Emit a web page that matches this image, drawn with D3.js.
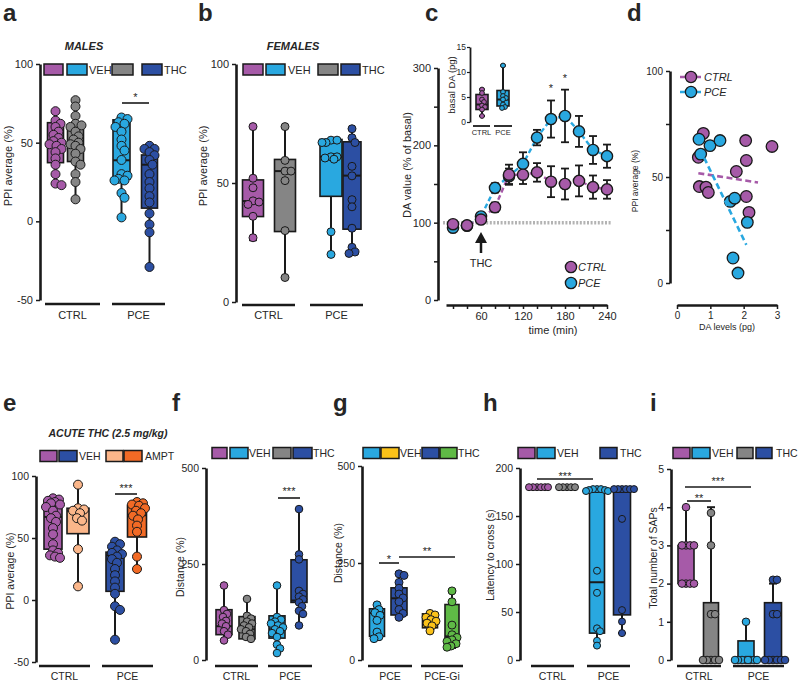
<!DOCTYPE html>
<html><head><meta charset="utf-8">
<script src="https://cdn.jsdelivr.net/npm/d3@7"></script>
<style>body{margin:0;background:#fff}svg{display:block}</style>
</head><body>
<script>
// ================= DATA =================
const groupNames = ["CTRL", "PCE"];
const seriesNames = ["s0", "s1", "s2", "s3"];

// a – males, PPI average (%)
const aCtrlVeh = [70,64,62,60,57,55,53,51,50,49,48,46,44,40,36,30,24,23];
const aCtrlThc = [77,73,67,62,61,60,57,54,52,50,49,48,46,43,38,36,30,25,14];
const aPceVeh  = [66,65,63,62,60,57,52,48,45,39,30,29,27,26,26,18,15,2.5];
const aPceThc  = [48,46,46,44,42,39,36,30,25,21,16,12,5,-2,-7,-29];
const aStats   = [[23.6,37.3,48.5,62.7,70],[14,38,48,61.6,77.4],[2.5,26.8,38.8,64.5,66.5],[-29,8.4,36,42.2,48.5]];

// b – females
const bCtrlVeh = [73.7,52,48,42.5,42,41,36,27];
const bCtrlThc = [73.7,59.5,55,55,51,30,10.3];
const bPceVeh  = [68,68,67,67,61,61,60.5,60,29.5,20];
const bPceThc  = [72.8,69,67,57,53,43,40,31,23,21,20.4];
const bStats   = [[26,35.9,42.4,51.3,73.7],[10.3,29.6,55,59.9,73.7],[20,44.4,61,68.3,68.3],[20.4,30.6,53.1,67.3,72.8]];

// c – DA time course
const cTime     = [20,40,60,80,100,120,140,160,180,200,220,240];
const cCtrlMean = [98,96.5,104,120,162,162,165,153,150,154,146,143];
const cCtrlErr  = [3,3,3,6,13,12,12,20,20,20,15,12];
const cPceMean  = [93.5,96,108,145,160,176,210,234,238,218,194,186];
const cPceErr   = [3,3,4,6,10,15,10,24,34,20,18,15];
const cStarTimes = [160,180];
const cInsetCtrl = [6.5,5.8,4.5,4,3.3,3,2.5,1.2];
const cInsetPce  = [11.3,6,5.2,4.8,4.5,3.5,3,2.8];
const cInsetStats = [[1.2,2.5,3.5,5.5,6.5],[2.8,3.2,4.5,6.3,11.3]];

// d – correlation
const dCtrlDA  = [0.79,0.64,0.67,0.87,0.94,2.06,2.08,1.78,2.08,2.16,2.85];
const dCtrlPPI = [70.6,59.3,45.5,45.2,42.7,67.2,57.8,52.6,40.8,33.3,64.4];
const dPceDA   = [0.66,0.71,0.99,1.29,1.6,1.73,2.11,1.68,1.83];
const dPcePPI  = [67.8,60.8,64.8,67.2,38.5,40,28.6,11.8,4.7];
const dCtrlFit = [[0.64,51.8],[2.43,47.4]];
const dPceFit  = [[0.69,63.1],[2.08,18]];

// e – acute THC + AMPT
const eCtrlVeh  = [82,81,80,79,78,77,75,72,68,66,63,58,53,45,40,38,36,35,34];
const eCtrlAmpt = [93,74,73,72,70,66,64,41,11];
const ePceVeh   = [47,45,43,40,38,37,35,33,30,25,20,15,10,5,-5,-8,-32];
const ePceAmpt  = [79,78,77,76,74,72,70,68,65,60,55,35,25];
const eStats    = [[34,41,67,80,82],[11,53.5,72,74,93],[-32,7,36,38.6,47],[25,50.8,68.4,76.5,79]];

// f – distance
const fCtrlVeh = [194,130,120,112,102,95,88,75,66,51];
const fCtrlThc = [159,115,108,100,95,90,85,80,75,68,60,55];
const fPceVeh  = [194,112,105,100,95,90,85,80,75,70,60,40,30,18];
const fPceThc  = [393,275,262,180,172,165,158,150,140,128,120,90];
const fStats   = [[51,66,88,131,194],[55,55,80,113,159],[18,57,80,115,194],[90,150,155,261,393]];

// g – distance, PCE vs PCE-Gi
const gGroupNames = ["PCE", "PCE-Gi"];
const gPceVeh = [142,130,122,115,102,72,60,55];
const gPceThc = [222,218,200,185,170,160,150,130,120,110];
const gGiVeh  = [120,116,110,104,100,95,88,75];
const gGiThc  = [178,150,90,65,58,52,48,42,36,33];
const gStats  = [[52,61,121,132,142],[110,116,159,186,226],[75,83,107,119,120],[31,36,61,143,181]];

// h – latency to cross
const hCtrlVeh = [180,180,180,180,180,180];
const hCtrlThc = [180,180,180,180,180];
const hPceVeh  = [178,178,178,177,177,176,176,93,70,33,30,20,15];
const hPceThc  = [178,178,178,178,178,178,147,52,40,28];
const hStats   = [[180,180,180,180,180],[180,180,180,180,180],[15,28,81,175,178],[28,47,175,175,178]];

// i – SAPs
const iCtrlVeh = [4,3,3,3,3,2,2,2,2];
const iCtrlThc = [3.85,3,1.2,1.2,0,0,0,0,0];
const iPceVeh  = [1,0,0,0,0,0,0,0,0];
const iPceThc  = [2.1,2.1,1.2,1.2,0,0,0,0,0,0];
const iStats   = [[2,2,3,3,4],[0,0,0,1.5,4],[0,0,0,0.5,1],[0,0,0,1.5,2]];

// ================= STYLE =================
const COL = {purple:"#a65aa8", lblue:"#29a8e0", gray:"#858585", dblue:"#2c4fa3",
             peach:"#fbb68a", orange:"#f26a25", yellow:"#fbc219", green:"#5fba46"};
const INK = "#1a1a1a", TXT = "#262626";
const FONT = "'Liberation Sans', Arial, Helvetica, sans-serif";

const svg = d3.select("body").append("svg").attr("width",800).attr("height",683);
svg.append("rect").attr("width",800).attr("height",683).attr("fill","#fff");

function txt(g, x, y, s, o = {}) {
  return g.append("text").attr("x",x).attr("y",y).text(s)
    .attr("font-family",FONT).attr("font-size",o.size||11).attr("fill",TXT)
    .attr("text-anchor",o.anchor||"start").attr("font-weight",o.weight||"normal")
    .attr("font-style",o.style||"normal");
}
function vlabel(g, x, cy, s, size) {
  g.append("text").attr("transform",`translate(${x},${cy}) rotate(-90)`).attr("text-anchor","middle")
    .attr("font-family",FONT).attr("font-size",size||11).attr("fill",TXT).text(s);
}
function yAxis(g, x, y, ticks, labels, size) {
  const ax = d3.axisLeft(y).tickValues(ticks).tickSize(4).tickSizeOuter(0)
    .tickFormat(d => labels.includes(d) ? d : "");
  const a = g.append("g").attr("transform",`translate(${x},0)`).call(ax);
  a.select(".domain").attr("stroke",INK).attr("stroke-width",2.6);
  a.selectAll(".tick line").attr("stroke",INK).attr("stroke-width",1.5);
  a.selectAll(".tick text").attr("font-size",size||11).attr("font-family",FONT).attr("fill",TXT);
  return a;
}
function legend(g, cy, items, h, fs) {
  items.forEach(it => {
    if (it.c) g.append("rect").attr("x",it.x).attr("y",cy-h/2).attr("width",it.w).attr("height",h)
      .attr("fill",COL[it.c]).attr("stroke",INK).attr("stroke-width",1.5);
    else txt(g, it.x, cy+4, it.t, {size:fs||11});
  });
}
function dodgeX(vals, y, cx, sep, maxOff) {
  const order = d3.range(vals.length).sort((a,b)=>d3.descending(vals[a],vals[b]));
  const placed = [], xs = new Array(vals.length);
  const cands = [0];
  for (let k=1;k<=maxOff;k++) cands.push(k,-k);
  order.forEach(i => {
    const py = y(vals[i]);
    let best = 0, bestD = -1;
    for (const off of cands) {
      let md = Infinity;
      for (const p of placed) { const d = Math.hypot(p[0]-off, p[1]-py); if (d < md) md = d; }
      if (md >= sep) { best = off; break; }
      if (md > bestD) { bestD = md; best = off; }
    }
    placed.push([best, py]);
    xs[i] = cx + best;
  });
  return xs;
}
function boxSeries(g, y, cx, w, stats, pts, color, r, sep, capW, spread) {
  const [mn,q1,md,q3,mx] = stats;
  const cap = capW || 8;
  const L = (x1,y1,x2,y2,sw) => g.append("line").attr("x1",x1).attr("y1",y1).attr("x2",x2).attr("y2",y2)
    .attr("stroke",INK).attr("stroke-width",sw);
  if (mx > q3) { L(cx,y(q3),cx,y(mx),2); L(cx-cap/2,y(mx),cx+cap/2,y(mx),2); }
  if (mn < q1) { L(cx,y(q1),cx,y(mn),2); L(cx-cap/2,y(mn),cx+cap/2,y(mn),2); }
  if (q3 > q1) {
    g.append("rect").attr("x",cx-w/2).attr("y",y(q3)).attr("width",w).attr("height",y(q1)-y(q3))
      .attr("fill",COL[color]).attr("stroke",INK).attr("stroke-width",1.6);
    L(cx-w/2,y(md),cx+w/2,y(md),2);
  }
  const xs = dodgeX(pts, y, cx, sep, Math.max(1, Math.round(w/2 + (spread == null ? -2 : spread))));
  g.selectAll(null).data(pts).enter().append("circle")
    .attr("cx",(d,i)=>xs[i]).attr("cy",d=>y(d)).attr("r",r)
    .attr("fill",COL[color]).attr("stroke",INK).attr("stroke-width",1);
}
function boxPanel(P) {
  const g = svg.append("g");
  const y = d3.scaleLinear().domain(P.domain).range(P.range);
  const xPos = d3.scaleOrdinal().domain(seriesNames).range(P.centers);
  P.groupLines.forEach((gl,i) => {
    g.append("line").attr("x1",gl[0]).attr("x2",gl[1]).attr("y1",P.lineY).attr("y2",P.lineY)
      .attr("stroke",INK).attr("stroke-width",2.6);
    txt(g,(gl[0]+gl[1])/2,P.labelY,P.groupLabels[i],{anchor:"middle",size:P.fs||11});
  });
  P.series.forEach((s,i) => boxSeries(g, y, xPos(seriesNames[i]), P.widths[i], P.stats[i], s.pts, s.c, P.r, P.sep, 8, P.spread));
  yAxis(g, P.axisX, y, P.ticks, P.labels, P.fs);
  vlabel(g, P.yLabelX, P.yLabelY, P.yLabel, P.yLabelSize || P.fs || 11);
  legend(g, P.legendY, P.legend, P.legendH || 11, P.fs);
  (P.sigs||[]).forEach(s => {
    g.append("line").attr("x1",s[0]).attr("x2",s[1]).attr("y1",s[2]).attr("y2",s[2]).attr("stroke",INK).attr("stroke-width",1.6);
    txt(g,s[3],s[4],s[5],{anchor:"middle",size:11});
  });
  if (P.title) txt(g,P.title[0],P.title[1],P.title[2],{anchor:"middle",size:P.title[3]||11,weight:"bold",style:"italic"});
  txt(g,P.letter[0],P.letter[1],P.letter[2],{size:24,weight:"bold"});
  return y;
}

// ================= PANEL a =================
boxPanel({
  domain:[-50,100], range:[300,64], centers:[55.5,75.5,121.5,149.5], widths:[16,16,17,16],
  stats:aStats, series:[{pts:aCtrlVeh,c:"purple"},{pts:aCtrlThc,c:"gray"},{pts:aPceVeh,c:"lblue"},{pts:aPceThc,c:"dblue"}],
  r:4.5, sep:5.5, axisX:40, ticks:[-50,0,50,100], labels:[-50,0,50,100],
  groupLines:[[45,100],[112,165]], groupLabels:groupNames, lineY:304, labelY:319,
  yLabel:"PPI average (%)", yLabelX:12, yLabelY:166,
  legendY:69.5, legend:[{x:44,w:19,c:"purple"},{x:67,w:20,c:"lblue"},{x:89,t:"VEH"},
    {x:112,w:21,c:"gray"},{x:142,w:20,c:"dblue"},{x:164,t:"THC"}],
  sigs:[[122,149,103,135.5,101,"*"]], title:[84,50,"MALES",11], letter:[3,21,"a"]
});

// ================= PANEL b =================
boxPanel({
  domain:[0,100], range:[302,64], centers:[253,285,331,352], widths:[21,21,22,18],
  stats:bStats, series:[{pts:bCtrlVeh,c:"purple"},{pts:bCtrlThc,c:"gray"},{pts:bPceVeh,c:"lblue"},{pts:bPceThc,c:"dblue"}],
  r:4, sep:5.5, axisX:236, ticks:[0,50,100], labels:[0,50,100],
  groupLines:[[242,295],[310,363]], groupLabels:groupNames, lineY:305, labelY:319,
  yLabel:"PPI average (%)", yLabelX:207, yLabelY:166,
  legendY:69.5, legend:[{x:243,w:20,c:"purple"},{x:266,w:19,c:"lblue"},{x:288,t:"VEH"},
    {x:318,w:20,c:"gray"},{x:341,w:19,c:"dblue"},{x:362,t:"THC"}],
  title:[293,50,"FEMALES",11], letter:[198,21,"b"]
});

// ================= PANEL c =================
(function(){
  const g = svg.append("g");
  const x = d3.scaleLinear().domain([10,240]).range([446,607]);
  const y = d3.scaleLinear().domain([0,300]).range([300,68]);
  g.append("line").attr("x1",443).attr("x2",612).attr("y1",y(100)).attr("y2",y(100))
    .attr("stroke","#b3b3b3").attr("stroke-width",3.5).attr("stroke-dasharray","2,1.6");
  yAxis(g, 438, y, [0,50,100,150,200,250,300], [0,100,200,300], 11);
  const xa = g.append("g").attr("transform","translate(0,305)")
    .call(d3.axisBottom(x).tickValues(d3.range(20,241,20)).tickSize(4).tickSizeOuter(0)
      .tickFormat(d => d % 60 === 0 ? d : ""));
  xa.select(".domain").attr("stroke",INK).attr("stroke-width",2.6);
  xa.selectAll(".tick line").attr("stroke",INK).attr("stroke-width",1.5);
  xa.selectAll(".tick text").attr("font-size",11).attr("font-family",FONT).attr("fill",TXT);
  txt(g,553,334,"time (min)",{anchor:"middle"});
  vlabel(g,411,165,"DA value (% of basal)",11);
  const series = [{m:cPceMean,e:cPceErr,c:"lblue"},{m:cCtrlMean,e:cCtrlErr,c:"purple"}];
  series.forEach(s => {
    const line = d3.line().x((d,i)=>x(cTime[i])).y(d=>y(d));
    g.append("path").attr("d",line(s.m)).attr("fill","none").attr("stroke",COL[s.c])
      .attr("stroke-width",2.4).attr("stroke-dasharray","5,3");
  });
  series.forEach(s => {
    s.m.forEach((v,i) => {
      const cx = x(cTime[i]);
      g.append("line").attr("x1",cx).attr("x2",cx).attr("y1",y(v-s.e[i])).attr("y2",y(v+s.e[i])).attr("stroke",INK).attr("stroke-width",1.8);
      [v-s.e[i], v+s.e[i]].forEach(b => g.append("line").attr("x1",cx-4).attr("x2",cx+4).attr("y1",y(b)).attr("y2",y(b)).attr("stroke",INK).attr("stroke-width",1.8));
    });
  });
  series.forEach(s => {
    g.selectAll(null).data(s.m).enter().append("circle").attr("cx",(d,i)=>x(cTime[i])).attr("cy",d=>y(d))
      .attr("r",5.6).attr("fill",COL[s.c]).attr("stroke",INK).attr("stroke-width",1.4);
  });
  cStarTimes.forEach(t => {
    const i = cTime.indexOf(t);
    txt(g, x(t), y(cPceMean[i] + cPceErr[i]) - 8, "*", {anchor:"middle", size:11});
  });
  // THC arrow
  g.append("path").attr("d",`M${x(60)},232 L${x(60)-6},243 L${x(60)+6},243 Z`).attr("fill",INK);
  g.append("line").attr("x1",x(60)).attr("x2",x(60)).attr("y1",242).attr("y2",253).attr("stroke",INK).attr("stroke-width",2.5);
  txt(g,x(60),267,"THC",{anchor:"middle"});
  [["purple","CTRL",267],["lblue","PCE",283]].forEach(l => {
    g.append("circle").attr("cx",571).attr("cy",l[2]).attr("r",5.6).attr("fill",COL[l[0]]).attr("stroke",INK).attr("stroke-width",1.4);
    txt(g,578,l[2]+4,l[1],{style:"italic"});
  });
  // inset
  const iy = d3.scaleLinear().domain([0,15]).range([122,47]);
  const ix = d3.scaleOrdinal().domain(groupNames).range([482,503]);
  boxSeries(g, iy, ix("CTRL"), 12, cInsetStats[0], cInsetCtrl, "purple", 2.4, 3, 6, 0);
  boxSeries(g, iy, ix("PCE"), 12, cInsetStats[1], cInsetPce, "lblue", 2.4, 3, 6, 0);
  const ia = g.append("g").attr("transform","translate(470,0)")
    .call(d3.axisLeft(iy).tickValues([0,5,10,15]).tickSize(3).tickPadding(1).tickSizeOuter(0));
  ia.select(".domain").attr("stroke",INK).attr("stroke-width",1.8);
  ia.selectAll(".tick line").attr("stroke",INK).attr("stroke-width",1.2);
  ia.selectAll(".tick text").attr("font-size",8.5).attr("font-family",FONT).attr("fill",TXT);
  vlabel(g,455,85,"basal DA (pg)",9.5);
  [[473,490,"CTRL"],[494,512,"PCE"]].forEach(l => {
    g.append("line").attr("x1",l[0]).attr("x2",l[1]).attr("y1",126).attr("y2",126).attr("stroke",INK).attr("stroke-width",1.8);
    txt(g,(l[0]+l[1])/2,135,l[2],{anchor:"middle",size:7.5});
  });
  txt(g,425,21,"c",{size:24,weight:"bold"});
})();

// ================= PANEL d =================
(function(){
  const g = svg.append("g");
  const x = d3.scaleLinear().domain([0,3]).range([677,777]);
  const y = d3.scaleLinear().domain([0,100]).range([283,71]);
  yAxis(g, 670, y, [0,25,50,75,100], [0,50,100], 10);
  const xa = g.append("g").attr("transform","translate(0,305)")
    .call(d3.axisBottom(x).tickValues([0,1,2,3]).tickSize(4).tickSizeOuter(0).tickFormat(d3.format("d")));
  xa.select(".domain").attr("stroke",INK).attr("stroke-width",2.6);
  xa.selectAll(".tick line").attr("stroke",INK).attr("stroke-width",1.5);
  xa.selectAll(".tick text").attr("font-size",10).attr("font-family",FONT).attr("fill",TXT);
  txt(g,727,330,"DA levels (pg)",{anchor:"middle",size:9});
  vlabel(g,638,181,"PPI average (%)",8.5);
  const pts = [{xs:dCtrlDA,ys:dCtrlPPI,c:"purple"},{xs:dPceDA,ys:dPcePPI,c:"lblue"}];
  pts.forEach(s => {
    g.selectAll(null).data(s.ys).enter().append("circle").attr("cx",(d,i)=>x(s.xs[i])).attr("cy",d=>y(d))
      .attr("r",5.8).attr("fill",COL[s.c]).attr("stroke",INK).attr("stroke-width",1.3);
  });
  [[dCtrlFit,"purple"],[dPceFit,"lblue"]].forEach(f => {
    g.append("path").attr("d",d3.line().x(d=>x(d[0])).y(d=>y(d[1]))(f[0])).attr("fill","none")
      .attr("stroke",COL[f[1]]).attr("stroke-width",2.6).attr("stroke-dasharray","6,3.5");
  });
  [["purple","CTRL",77],["lblue","PCE",92]].forEach(l => {
    g.append("line").attr("x1",680).attr("x2",702).attr("y1",l[2]).attr("y2",l[2]).attr("stroke",COL[l[0]]).attr("stroke-width",2.6).attr("stroke-dasharray","5,3");
    g.append("circle").attr("cx",691).attr("cy",l[2]).attr("r",5.6).attr("fill",COL[l[0]]).attr("stroke",INK).attr("stroke-width",1.3);
    txt(g,704,l[2]+4,l[1],{style:"italic"});
  });
  txt(g,627,21,"d",{size:24,weight:"bold"});
})();

// ================= PANEL e =================
boxPanel({
  domain:[-50,100], range:[662,476], centers:[53,78,115,137], widths:[18,22,18,19],
  stats:eStats, series:[{pts:eCtrlVeh,c:"purple"},{pts:eCtrlAmpt,c:"peach"},{pts:ePceVeh,c:"dblue"},{pts:ePceAmpt,c:"orange"}],
  r:4.5, sep:5.5, axisX:36, ticks:[-50,0,50,100], labels:[-50,0,50,100], fs:10.5,
  groupLines:[[39,90],[102,153]], groupLabels:groupNames, lineY:666, labelY:680,
  yLabel:"PPI average (%)", yLabelX:14, yLabelY:571,
  legendY:456, legend:[{x:40,w:17,c:"purple"},{x:59,w:18,c:"dblue"},{x:79,t:"VEH"},
    {x:106,w:17,c:"peach"},{x:124,w:18,c:"orange"},{x:145,t:"AMPT"}],
  sigs:[[115,137,494,126,492,"***"]], title:[108,437,"ACUTE THC (2.5 mg/kg)",10.5], letter:[3,411,"e"]
});

// ================= PANEL f =================
boxPanel({
  domain:[0,500], range:[660,468], centers:[224,247,277,299], widths:[16,16,16,16],
  stats:fStats, series:[{pts:fCtrlVeh,c:"purple"},{pts:fCtrlThc,c:"gray"},{pts:fPceVeh,c:"lblue"},{pts:fPceThc,c:"dblue"}],
  r:3.8, sep:4.8, axisX:206, ticks:[0,250,500], labels:[0,250,500], fs:10.5,
  groupLines:[[215,258],[268,312]], groupLabels:groupNames, lineY:666, labelY:680,
  yLabel:"Distance (%)", yLabelX:184, yLabelY:567,
  legendY:453, legend:[{x:212,w:15,c:"purple"},{x:230,w:18,c:"lblue"},{x:249,t:"VEH"},
    {x:273,w:18,c:"gray"},{x:293,w:19,c:"dblue"},{x:313,t:"THC"}],
  sigs:[[278,300,498,289,495,"***"]], letter:[172,411,"f"]
});

// ================= PANEL g =================
boxPanel({
  domain:[0,500], range:[660,466], centers:[377,399,430,452], widths:[15,16,15,14],
  stats:gStats, series:[{pts:gPceVeh,c:"lblue"},{pts:gPceThc,c:"dblue"},{pts:gGiVeh,c:"yellow"},{pts:gGiThc,c:"green"}],
  r:4, sep:5, axisX:362, ticks:[0,250,500], labels:[0,250,500], fs:10.5,
  groupLines:[[368,412],[421,463]], groupLabels:gGroupNames, lineY:666, labelY:680,
  yLabel:"Distance (%)", yLabelX:342, yLabelY:553,
  legendY:453, legend:[{x:363,w:17,c:"lblue"},{x:381,w:18,c:"yellow"},{x:400,t:"VEH"},
    {x:422,w:17,c:"dblue"},{x:440,w:17,c:"green"},{x:458,t:"THC"}],
  sigs:[[379,399,563,389,563,"*"],[399,455,557,427,555,"**"]], letter:[333,411,"g"]
});

// ================= PANEL h =================
boxPanel({
  domain:[0,200], range:[660,468], centers:[537,567,597,622], widths:[16,16,15,17],
  stats:hStats, series:[{pts:hCtrlVeh,c:"purple"},{pts:hCtrlThc,c:"gray"},{pts:hPceVeh,c:"lblue"},{pts:hPceThc,c:"dblue"}],
  r:3.5, sep:3.8, spread:3, axisX:520, ticks:[0,50,100,150,200], labels:[0,50,100,150,200], fs:10.5,
  groupLines:[[531,574],[587,630]], groupLabels:groupNames, lineY:666, labelY:680,
  yLabel:"Latency to cross (s)", yLabelX:494, yLabelY:555,
  legendY:453, legend:[{x:518,w:17,c:"purple"},{x:537,w:18,c:"lblue"},{x:557,t:"VEH"},
    {x:600,w:17,c:"dblue"},{x:620,t:"THC"}],
  sigs:[[537,593,479,565,480,"***"]], letter:[483,411,"h"]
});

// ================= PANEL i =================
boxPanel({
  domain:[0,5], range:[660,469], centers:[686,711,746,773], widths:[16,15,16,17],
  stats:iStats, series:[{pts:iCtrlVeh,c:"purple"},{pts:iCtrlThc,c:"gray"},{pts:iPceVeh,c:"lblue"},{pts:iPceThc,c:"dblue"}],
  r:3.8, sep:3.6, spread:3, axisX:671, ticks:[0,1,2,3,4,5], labels:[0,1,2,3,4,5], fs:10.5,
  groupLines:[[677,721],[733,784]], groupLabels:groupNames, lineY:666, labelY:680,
  yLabel:"Total number of SAPs", yLabelX:657, yLabelY:558,
  legendY:453, legend:[{x:673,w:17,c:"purple"},{x:692,w:18,c:"lblue"},{x:712,t:"VEH"},
    {x:737,w:16,c:"gray"},{x:756,w:16,c:"dblue"},{x:776,t:"THC"}],
  sigs:[[687,711,501,699,502,"**"],[685,751,487,718,485,"***"]], letter:[650,411,"i"]
});
</script>
</body></html>
